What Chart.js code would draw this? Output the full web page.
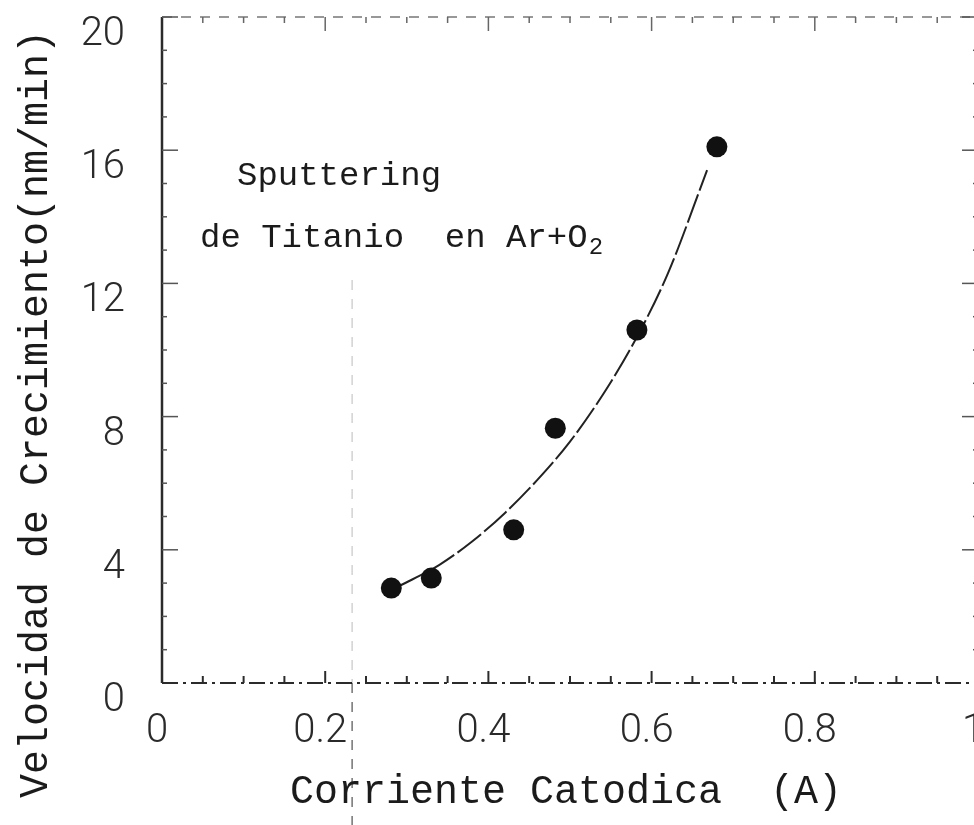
<!DOCTYPE html>
<html>
<head>
<meta charset="utf-8">
<script src="https://cdn.jsdelivr.net/npm/chart.js@4.4.1/dist/chart.umd.min.js"></script>
<style>
  html, body { margin: 0; padding: 0; background: #fff; overflow: hidden; }
  #wrap { position: relative; width: 1000px; height: 825px; }
</style>
</head>
<body>
<div id="wrap"><canvas id="chart"></canvas></div>
<script>
// medidas: corriente catodica (A) vs velocidad de crecimiento (nm/min)
const current = [0.281, 0.330, 0.431, 0.482, 0.582, 0.680];
const rate = [2.85, 3.15, 4.6, 7.65, 10.6, 16.1];

// curva de ajuste trazada a mano
const fitCurrent = [0.29, 0.34, 0.38, 0.42, 0.46, 0.50, 0.54, 0.58, 0.62, 0.668];
const fitRate = [2.9, 3.55, 4.25, 5.1, 6.1, 7.25, 8.65, 10.3, 12.3, 15.4];

const xTicks = [0, 0.2, 0.4, 0.6, 0.8, 1];
const xTickLabels = ['0', '0.2', '0.4', '0.6', '0.8', '1'];
const yTicks = [0, 4, 8, 12, 16, 20];
const yTickLabels = ['0', '4', '8', '12', '16', '20'];

const tickFont = { family: 'Roboto, "Liberation Sans", sans-serif', size: 40, weight: 300 };
const mono = '"Liberation Mono", "Courier New", monospace';
const ink = '#1b1b1b';

// sin relleno extra alrededor de las etiquetas
const noPad = s => {
  s.paddingTop = 0; s.paddingBottom = 0;
  s.paddingLeft = 0; s.paddingRight = 0;
};

// ejes con marcas hacia adentro, marco y textos
const frame = {
  id: 'frame',
  beforeDatasetsDraw(chart) {
    const { ctx, chartArea: a, scales: { x, y } } = chart;
    ctx.save();
    ctx.strokeStyle = '#2b2b2b';

    // eje izquierdo
    ctx.lineWidth = 2.5;
    ctx.beginPath();
    ctx.moveTo(a.left, a.top);
    ctx.lineTo(a.left, a.bottom);
    ctx.stroke();

    // eje inferior (cortado)
    ctx.lineWidth = 2;
    ctx.setLineDash([16, 5, 3, 5]);
    ctx.beginPath();
    ctx.moveTo(a.left, a.bottom);
    ctx.lineTo(a.right, a.bottom);
    ctx.stroke();

    // borde superior, tenue
    ctx.strokeStyle = '#777';
    ctx.lineWidth = 1.5;
    ctx.setLineDash([10, 9]);
    ctx.beginPath();
    ctx.moveTo(a.left, a.top);
    ctx.lineTo(a.right, a.top);
    ctx.stroke();
    ctx.setLineDash([]);

    // marcas en x cada 0.05
    for (let i = 1; i <= 20; i++) {
      const px = x.getPixelForValue(i * 0.05);
      const major = i % 4 === 0;
      ctx.strokeStyle = '#2b2b2b';
      ctx.lineWidth = 2;
      ctx.beginPath();
      ctx.moveTo(px, a.bottom);
      ctx.lineTo(px, a.bottom - (major ? 12 : 7));
      ctx.stroke();
      ctx.strokeStyle = '#666';
      ctx.lineWidth = 1.5;
      ctx.beginPath();
      ctx.moveTo(px, a.top);
      ctx.lineTo(px, a.top + (major ? 14 : 6));
      ctx.stroke();
    }

    // marcas en y cada 1
    for (let i = 1; i <= 20; i++) {
      const py = y.getPixelForValue(i);
      const major = i % 4 === 0;
      ctx.strokeStyle = '#555';
      ctx.lineWidth = 1.5;
      ctx.beginPath();
      ctx.moveTo(a.left, py);
      ctx.lineTo(a.left + (major ? 16 : 5), py);
      ctx.stroke();
      ctx.beginPath();
      ctx.moveTo(a.right, py);
      ctx.lineTo(a.right - (major ? 16 : 5), py);
      ctx.stroke();
    }

    // pliegue del papel
    const fx = x.getPixelForValue(0.233);
    ctx.setLineDash([10, 9]);
    ctx.lineWidth = 1.5;
    ctx.strokeStyle = 'rgba(0,0,0,0.18)';
    ctx.beginPath();
    ctx.moveTo(fx, 280);
    ctx.lineTo(fx, a.bottom);
    ctx.stroke();
    ctx.strokeStyle = 'rgba(0,0,0,0.55)';
    ctx.beginPath();
    ctx.moveTo(fx, a.bottom);
    ctx.lineTo(fx, chart.height);
    ctx.stroke();
    ctx.restore();
  },
  afterDraw(chart) {
    const { ctx } = chart;
    ctx.save();
    ctx.fillStyle = ink;
    ctx.textBaseline = 'alphabetic';

    // titulo eje x
    ctx.font = '40px ' + mono;
    ctx.textAlign = 'center';
    ctx.fillText('Corriente Catodica  (A)', 566, 803);

    // titulo eje y
    ctx.save();
    ctx.translate(47, 414);
    ctx.rotate(-Math.PI / 2);
    ctx.fillText('Velocidad de Crecimiento(nm/min)', 0, 0);
    ctx.restore();

    // leyenda dentro del grafico
    ctx.textAlign = 'left';
    ctx.font = '34px ' + mono;
    ctx.fillText('Sputtering', 237, 185);
    const line2 = 'de Titanio  en Ar+O';
    ctx.fillText(line2, 200, 247);
    const w = ctx.measureText(line2).width;
    ctx.font = '24px ' + mono;
    ctx.fillText('2', 200 + w + 1, 254);
    ctx.restore();
  }
};

new Chart(document.getElementById('chart'), {
  type: 'scatter',
  data: {
    datasets: [{
      label: 'medidas',
      data: current.map((c, i) => ({ x: c, y: rate[i] })),
      pointRadius: 10.5,
      pointBackgroundColor: '#111',
      pointBorderWidth: 0
    }, {
      label: 'ajuste',
      data: fitCurrent.map((c, i) => ({ x: c, y: fitRate[i] })),
      showLine: true,
      pointRadius: 0,
      borderColor: '#222',
      borderWidth: 2,
      borderDash: [30, 4],
      cubicInterpolationMode: 'monotone'
    }]
  },
  options: {
    responsive: true,
    maintainAspectRatio: false,
    animation: false,
    layout: { padding: { left: 0, top: 17, right: 22, bottom: 0 } },
    plugins: { legend: { display: false }, tooltip: { enabled: false } },
    scales: {
      x: {
        type: 'linear', min: 0, max: 1,
        border: { display: false },
        grid: { display: false, drawTicks: false },
        afterBuildTicks: s => { s.ticks = xTicks.map(v => ({ value: v })); },
        afterFit: s => { s.height = 142; noPad(s); },
        ticks: {
          font: tickFont, color: '#2a2a2a', padding: 25, labelOffset: -5,
          maxRotation: 0, autoSkip: false,
          callback: (v, i) => xTickLabels[i]
        }
      },
      y: {
        min: 0, max: 20,
        border: { display: false },
        grid: { display: false, drawTicks: false },
        afterBuildTicks: s => { s.ticks = yTicks.map(v => ({ value: v })); },
        afterFit: s => { s.width = 162; noPad(s); },
        ticks: {
          font: tickFont, color: '#2a2a2a', padding: 37, align: 'start', labelOffset: -2,
          autoSkip: false,
          callback: (v, i) => yTickLabels[i]
        }
      }
    }
  },
  plugins: [frame]
});
</script>
</body>
</html>
